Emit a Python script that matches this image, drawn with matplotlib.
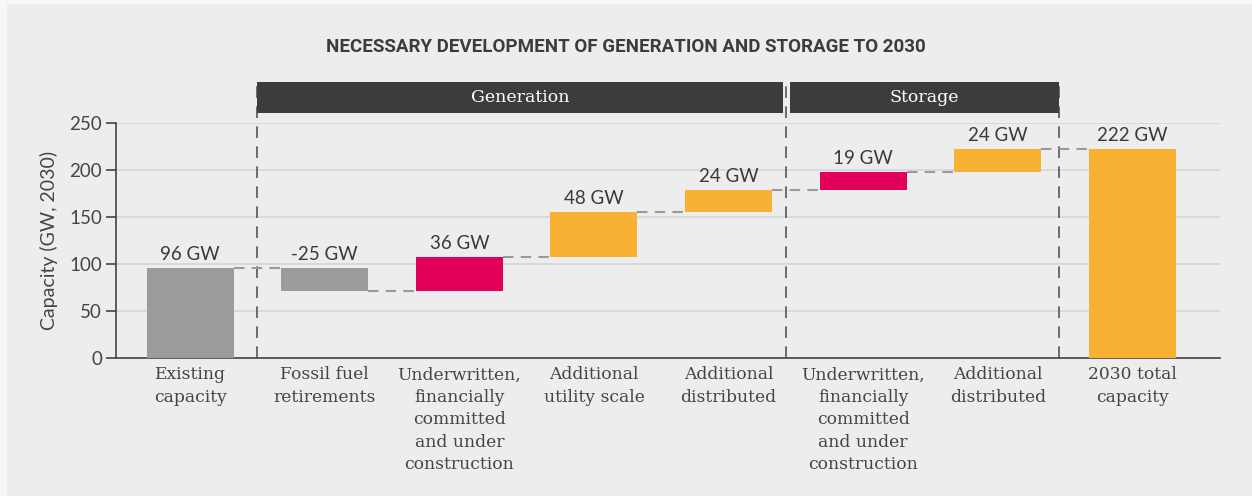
import numpy as np
import matplotlib.pyplot as plt
from matplotlib.patches import Rectangle

# waterfall data
categories = ['Existing\ncapacity', 'Fossil fuel\nretirements',
              'Underwritten,\nfinancially\ncommitted\nand under\nconstruction',
              'Additional\nutility scale', 'Additional\ndistributed',
              'Underwritten,\nfinancially\ncommitted\nand under\nconstruction',
              'Additional\ndistributed', '2030 total\ncapacity']
changes = [96, -25, 36, 48, 24, 19, 24]
total = 222
value_labels = ['96 GW', '-25 GW', '36 GW', '48 GW', '24 GW', '19 GW', '24 GW', '222 GW']
bar_colors = ['#9b9b9b', '#9b9b9b', '#e3005a', '#f8b133', '#f8b133',
              '#e3005a', '#f8b133', '#f8b133']
groups = ['Generation', 'Storage']
group_spans = [(0.498, 4.405), (4.457, 6.456)]
separators = [0.498, 4.43, 6.456]

BG = '#ededed'
TXT = '#454545'

fig = plt.figure(figsize=(12.52, 4.96), dpi=100, facecolor='#f7f7f7')
fig.patches.append(Rectangle((7 / 1252, 0), 1, 1 - 4 / 496, transform=fig.transFigure,
                             facecolor=BG, edgecolor='none', zorder=-5))
ax = fig.add_axes([116 / 1252, 1 - 358 / 496, (1220 - 116) / 1252, (358 - 123) / 496])
ax.set_facecolor(BG)

x = np.arange(len(categories))
w = 0.646
running = np.cumsum(changes)
bottoms = [0] + [running[i - 1] if changes[i] > 0 else running[i]
                 for i in range(1, len(changes))] + [0]
heights = [abs(c) for c in changes] + [total]
levels = list(running) + [total]

ax.bar(x, heights, bottom=bottoms, width=w, color=bar_colors, zorder=3)

# connectors between bars
for i in range(len(categories) - 1):
    ax.plot([x[i] + w / 2, x[i + 1] - w / 2], [levels[i], levels[i]],
            color='#999999', lw=1.5, dashes=(5, 3.5), zorder=2)

# value labels
for i, lab in enumerate(value_labels):
    top = bottoms[i] + heights[i]
    if i > 0 and i < len(changes) and changes[i] < 0:
        top = running[i - 1]
    ax.text(x[i], top + 5.5, lab, ha='center', va='bottom', fontsize=13.5,
            family='Lato', color='#3a3a3a')

# group separators and header boxes
for s in separators:
    ax.plot([s, s], [0, 293], color='#555555', lw=1.2, dashes=(7, 5),
            clip_on=False, zorder=1)
for g, (a, b) in zip(groups, group_spans):
    ax.add_patch(Rectangle((a, 260.5), b - a, 33, facecolor='#3c3c3a',
                           edgecolor='none', clip_on=False, zorder=4))
    ax.text((a + b) / 2, 277, g, ha='center', va='center', color='white',
            fontsize=12.5, family='DejaVu Serif', zorder=5)

ax.set_xlim(-0.55, 7.65)
ax.set_ylim(0, 250)
ax.set_yticks([0, 50, 100, 150, 200, 250])
ax.yaxis.grid(True, color='#d6d6d6', lw=1.2, zorder=0)
ax.set_axisbelow(True)
for sp in ['top', 'right']:
    ax.spines[sp].set_visible(False)
for sp in ['left', 'bottom']:
    ax.spines[sp].set_color('#444444')
    ax.spines[sp].set_linewidth(1.2)
ax.tick_params(axis='y', length=7, width=1.2, color='#444444', labelsize=13.5,
               labelcolor=TXT, pad=3)
for t in ax.get_yticklabels():
    t.set_family('Lato')
ax.set_xticks(x)
ax.set_xticklabels(categories, family='DejaVu Serif', fontsize=12.3, color=TXT,
                   linespacing=1.42, va='top')
ax.tick_params(axis='x', length=0, pad=6)
ax.set_ylabel('Capacity (GW, 2030)', family='Lato', fontsize=14, color=TXT, labelpad=8)

fig.text(626 / 1252, 1 - 47 / 496, 'NECESSARY DEVELOPMENT OF GENERATION AND STORAGE TO 2030',
         ha='center', va='center', fontsize=13.5, fontweight='bold', family='Roboto',
         color='#3c3c3c')

fig.savefig('out.png', dpi=100, facecolor=fig.get_facecolor())
